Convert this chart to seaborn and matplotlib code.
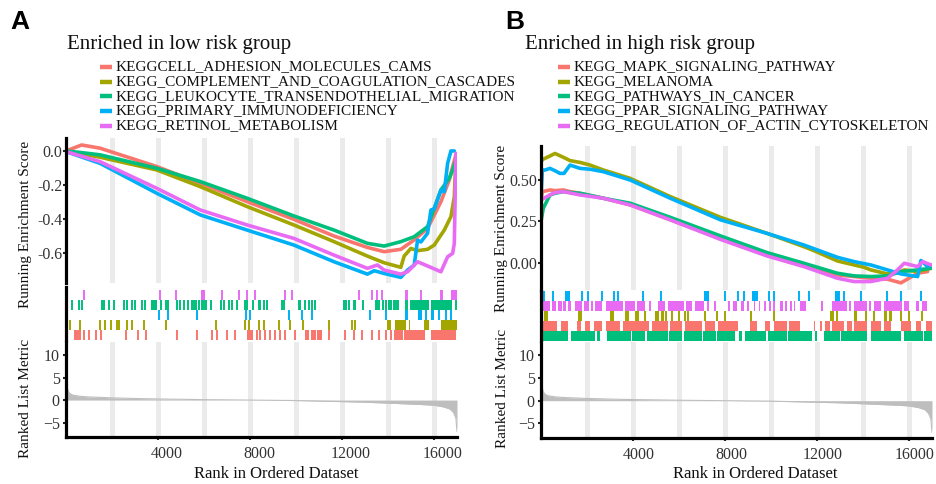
import numpy as np
import pandas as pd
import matplotlib
matplotlib.use("Agg")
import matplotlib.pyplot as plt
import matplotlib.transforms as mtransforms
from matplotlib.lines import Line2D
import seaborn as sns

# ---------------- data ----------------
N_GENES = 17000
PALETTE = ["#F8766D", "#A3A500", "#00BF7D", "#00B0F6", "#E76BF3"]
X_TICKS = [4000, 8000, 12000, 16000]
BANDS = [2000, 4000, 6000, 8000, 10000, 12000, 14000, 16000]

TITLE_A = "Enriched in low risk group"
SETS_A = ["KEGGCELL_ADHESION_MOLECULES_CAMS",
          "KEGG_COMPLEMENT_AND_COAGULATION_CASCADES",
          "KEGG_LEUKOCYTE_TRANSENDOTHELIAL_MIGRATION",
          "KEGG_PRIMARY_IMMUNODEFICIENCY",
          "KEGG_RETINOL_METABOLISM"]
TITLE_B = "Enriched in high risk group"
SETS_B = ["KEGG_MAPK_SIGNALING_PATHWAY",
          "KEGG_MELANOMA",
          "KEGG_PATHWAYS_IN_CANCER",
          "KEGG_PPAR_SIGNALING_PATHWAY",
          "KEGG_REGULATION_OF_ACTIN_CYTOSKELETON"]

# running enrichment score curves, panel A
a_cams_x = [0, 682, 1481, 3951, 5840, 7874, 9908, 11652, 13105, 13832, 14558, 15139, 15720, 16302, 16665, 16810, 16955]
a_cams_y = [0.0, 0.035, 0.016, -0.092, -0.19, -0.298, -0.402, -0.50, -0.567, -0.592, -0.578, -0.523, -0.455, -0.298, -0.17, -0.092, -0.023]
a_comp_x = [0, 1481, 3951, 5840, 7874, 9908, 11652, 13105, 13832, 14558, 14703, 14994, 15285, 15720, 16011, 16447, 16737, 16883, 16955]
a_comp_y = [0.0, -0.037, -0.112, -0.21, -0.327, -0.435, -0.533, -0.618, -0.657, -0.684, -0.618, -0.573, -0.586, -0.578, -0.553, -0.465, -0.386, -0.269, -0.033]
a_leuk_x = [0, 682, 1481, 3951, 5840, 7874, 9908, 11652, 13105, 13832, 14558, 15139, 15720, 16302, 16665, 16810, 16955]
a_leuk_y = [0.0, -0.010, -0.023, -0.102, -0.18, -0.278, -0.382, -0.465, -0.543, -0.559, -0.533, -0.504, -0.445, -0.229, -0.161, -0.112, -0.053]
a_prim_x = [0, 1481, 3951, 5840, 7874, 9908, 11652, 13105, 13400, 13832, 14558, 14849, 15139, 15285, 15430, 15720, 15866, 16011, 16302, 16447, 16592, 16737, 16883]
a_prim_y = [-0.004, -0.073, -0.249, -0.376, -0.465, -0.553, -0.651, -0.724, -0.704, -0.72, -0.743, -0.70, -0.671, -0.524, -0.535, -0.484, -0.347, -0.34, -0.229, -0.24, -0.073, 0.0, 0.0]
a_reti_x = [0, 1481, 3951, 5840, 7874, 9908, 11652, 13105, 13541, 13832, 14558, 14849, 15285, 15720, 16302, 16592, 16810, 16883, 16955]
a_reti_y = [-0.004, -0.063, -0.22, -0.347, -0.435, -0.514, -0.612, -0.69, -0.67, -0.70, -0.724, -0.71, -0.651, -0.676, -0.71, -0.622, -0.602, -0.543, -0.014]

# running enrichment score curves, panel B
b_mapk_x = [0, 60, 391, 609, 972, 1263, 1699, 2716, 3878, 5622, 7802, 9836, 11434, 12887, 13614, 14340, 15067, 15648, 16374, 16810]
b_mapk_y = [0.38, 0.43, 0.44, 0.436, 0.44, 0.43, 0.42, 0.39, 0.35, 0.26, 0.148, 0.048, -0.012, -0.072, -0.082, -0.092, -0.098, -0.12, -0.062, -0.052]
b_mela_x = [0, 72, 391, 609, 972, 1263, 1699, 2135, 2716, 3878, 5622, 7802, 9836, 11434, 11870, 12887, 13614, 14049, 14340, 15067, 15648, 15793, 16374, 16955]
b_mela_y = [0.61, 0.624, 0.645, 0.66, 0.637, 0.617, 0.606, 0.59, 0.56, 0.51, 0.40, 0.275, 0.178, 0.098, 0.074, 0.012, -0.012, -0.026, -0.042, -0.066, -0.052, -0.042, -0.052, -0.032]
b_canc_x = [0, 100, 391, 609, 972, 1263, 1699, 2716, 3878, 5622, 7802, 9836, 11434, 12887, 13614, 14340, 15067, 15648, 16374, 16955]
b_canc_y = [0.25, 0.33, 0.41, 0.42, 0.43, 0.425, 0.42, 0.39, 0.36, 0.275, 0.163, 0.062, -0.002, -0.062, -0.078, -0.082, -0.078, -0.052, -0.042, -0.032]
b_ppar_x = [0, 60, 173, 391, 609, 820, 1000, 1263, 1699, 2135, 2716, 3878, 5622, 7802, 9836, 11434, 12887, 13614, 14340, 15067, 15648, 16374, 16520, 16810, 16955]
b_ppar_y = [0.40, 0.56, 0.56, 0.57, 0.556, 0.54, 0.54, 0.59, 0.57, 0.565, 0.55, 0.50, 0.39, 0.26, 0.178, 0.108, 0.034, 0.008, -0.012, -0.042, -0.066, -0.082, 0.015, -0.022, -0.012]
b_acti_x = [0, 391, 609, 972, 1699, 2716, 3878, 5622, 7802, 9836, 11434, 12887, 13614, 14340, 15067, 15500, 15793, 16374, 16592, 16955]
b_acti_y = [0.38, 0.41, 0.424, 0.43, 0.41, 0.39, 0.35, 0.26, 0.142, 0.042, -0.022, -0.092, -0.112, -0.112, -0.092, -0.042, -0.002, -0.022, 0.008, -0.012]

# hit positions (single ticks) and dense hit blocks (start, end), panel A
a_cams_hits = [378, 450, 523, 596, 770, 989, 1298, 1541, 2587, 3139, 3459, 4839, 5711, 6365, 6583, 7018, 7352, 8326,
               8444, 8662, 8880, 9098, 9315, 9533, 9969, 11422, 12149, 12512, 12875, 13311, 13602, 13892, 14110]
a_cams_blocks = [(7890, 8110), (10400, 10560), (10640, 10860), (10930, 11150), (14250, 14650), (14690, 15600), (15880, 16950)]
a_comp_hits = [189, 625, 1497, 1686, 1976, 2223, 2325, 2659, 2877, 3386, 4330, 6539, 7788, 7963, 8399, 8589, 9243,
               9751, 10303, 11422, 12439, 12585]
a_comp_blocks = [(13960, 14120), (14320, 14780), (14900, 14960), (15560, 15790), (16290, 16980)]
a_leuk_hits = [262, 553, 698, 1570, 1642, 1860, 2107, 2514, 2659, 2877, 2994, 3313, 3429, 4112, 4330, 4446, 4839, 4941,
               5129, 5318, 5493, 5565, 5638, 5783, 5900, 6001, 6103, 6292, 6728, 6873, 7091, 7236, 7454, 7788, 7890,
               8137, 8399, 8444, 8589, 8734, 9388, 9461, 10115, 10187, 10405, 10550, 10696, 10841, 12076, 12178, 12294,
               12512, 12585, 12904, 13457, 13529, 13602, 13776, 13892, 14038, 14110, 14256, 14357, 14444, 14764, 14837,
               14982, 16944]
a_leuk_blocks = [(3677, 3967), (15055, 15781), (15854, 16798)]
a_prim_hits = [4040, 4446, 5711, 7817, 7992, 9679, 10260, 10696, 13239, 13892, 14764, 14837, 15636, 16217, 16508, 16726]
a_prim_blocks = [(15316, 15491), (15854, 15999)]
a_reti_hits = [770, 4083, 4766, 6771, 7527, 7890, 8224, 9533, 9824, 12730, 13311, 13529, 13747, 14764, 14837, 15418,
               16290, 16363]
a_reti_blocks = [(5880, 6060), (16726, 17000)]

# hit positions and dense hit blocks, panel B
b_mapk_hits = []
b_mapk_blocks = [(101, 682), (871, 1162), (1554, 1743), (1918, 2135), (2324, 2644), (2818, 3443), (3545, 4678),
                 (4824, 5521), (5623, 6131), (6247, 7003), (7149, 7584), (7700, 8545), (9098, 9388), (9751, 9940),
                 (10115, 10696), (10768, 11277), (11858, 11931), (12149, 12221), (12367, 12585), (12657, 13166),
                 (13311, 13529), (13602, 14183), (14328, 14764), (14909, 15200), (15636, 16072), (16290, 16508),
                 (16726, 17000)]
b_mela_hits = [4533, 5434, 5696, 6015, 6277, 6393, 7149, 7657, 8020, 10115, 12875, 14110, 14473, 15636, 15999, 16580]
b_mela_blocks = [(145, 319), (1598, 1772), (3007, 3153), (3632, 3807), (4097, 4271), (4969, 5143), (5230, 5332),
                 (9098, 9170), (12585, 12730), (13602, 13747), (14909, 15026), (15127, 15273)]
b_canc_hits = []
b_canc_blocks = [(101, 1191), (1307, 2353), (2426, 2571), (2862, 3900), (3960, 4533), (4605, 5500), (5560, 6131),
                 (6204, 7000), (7060, 7600), (7660, 8456), (8589, 8734), (8880, 9800), (9860, 10700), (10760, 11786),
                 (11931, 12004), (12294, 13000), (13060, 14183), (14328, 15636), (15781, 16600), (16660, 17000)]
b_ppar_hits = [145, 537, 1772, 2063, 2644, 3153, 3342, 4417, 5231, 8021, 8545, 8807, 9388, 9897, 10115, 11204, 11640,
               12947, 13166, 13892, 15055, 15636, 16508]
b_ppar_blocks = [(1046, 1264), (7076, 7294), (9170, 9390), (12802, 12947)]
b_acti_hits = [4751, 7555, 8165, 9751, 9969, 10115]
b_acti_blocks = [(101, 392), (465, 639), (726, 900), (973, 1075), (1191, 1307), (1482, 1772), (1888, 2092),
                 (2179, 2281), (2353, 2644), (2818, 3545), (3632, 4097), (4170, 4533), (5085, 5405), (5521, 6204),
                 (6306, 6567), (6683, 7076), (7221, 7323), (8340, 8516), (8691, 8807), (8952, 9025), (9243, 9315),
                 (9461, 9533), (10405, 10521), (10623, 10696), (10841, 10914), (10986, 11059), (11277, 11538),
                 (12178, 12265), (12657, 13311), (13384, 13457), (13602, 14183), (14256, 14328), (14473, 14764),
                 (14909, 15709), (15781, 15999), (16290, 16435), (16580, 16798)]

# ranked list metric (same ranked gene list in both panels)
metric_rank = [0, 15, 40, 80, 150, 300, 600, 1000, 2000, 3000, 4000, 6000, 8000, 10000, 11650, 12900, 14360, 15500,
               16000, 16400, 16700, 16850, 16950, 17000]
metric_val = [9.0, 6.0, 3.5, 2.2, 1.5, 1.1, 0.85, 0.7, 0.5, 0.35, 0.25, 0.1, 0.0, -0.1, -0.3, -0.45, -0.75, -1.0,
              -1.15, -1.5, -2.0, -2.8, -4.0, -7.0]

# ---------------- styling ----------------
sns.set_theme(style="white")
plt.rcParams["font.family"] = ["Liberation Serif", "DejaVu Serif"]
plt.rcParams["axes.unicode_minus"] = True

W, H = 936, 484
fig = plt.figure(figsize=(W / 100, H / 100), dpi=100)
TXT = "#333333"


def fx(px):
    return px / W


def fy(py):
    return 1 - py / H


def rect(x0, x1, y0, y1):
    return [fx(x0), fy(y1), fx(x1) - fx(x0), (y1 - y0) / H]


def es_frame(xs, ys, names):
    frames = []
    for x, y, n in zip(xs, ys, names):
        frames.append(pd.DataFrame({"rank": x, "es": y, "set": n}))
    return pd.concat(frames, ignore_index=True)


def style_left(ax):
    for s in ["top", "right", "bottom"]:
        ax.spines[s].set_visible(False)
    ax.spines["left"].set_linewidth(2.3)
    ax.spines["left"].set_color("black")


def panel(x0, x1, ys, names, es_x, es_y, es_lim, es_ticks, es_labels, hits, blocks, row_order, row_lim,
          title, letter, letter_x, title_x, handle_x, ylab_x, ylab1_y, ylab2_y, xlab_x, xoff):
    ax_es = fig.add_axes(rect(x0, x1, ys[0], ys[1]))
    ax_tk = fig.add_axes(rect(x0, x1, ys[2], ys[3]))
    ax_mt = fig.add_axes(rect(x0, x1, ys[4], ys[5]))

    # ES curves
    for b in BANDS:
        ax_es.axvline(b, color="#EBEBEB", lw=3.6, zorder=0)
    df = es_frame(es_x, es_y, names)
    sns.lineplot(data=df, x="rank", y="es", hue="set", hue_order=names, palette=PALETTE,
                 estimator=None, sort=False, linewidth=2.6, legend=False, ax=ax_es)
    ax_es.set_xlim(0, N_GENES)
    ax_es.set_ylim(*es_lim)
    ax_es.set_yticks(es_ticks)
    ax_es.set_yticklabels(es_labels)
    ax_es.set_xticks([])
    ax_es.set_xlabel("")
    ax_es.set_ylabel("")
    style_left(ax_es)
    ax_es.tick_params(axis="y", length=2.0, width=1.5, pad=0.5, labelsize=11.5, labelcolor=TXT, left=True)

    # hit ticks
    for i, name in enumerate(names):
        row = row_order[i]
        if hits[i]:
            ax_tk.vlines(hits[i], row, row + 1, color=PALETTE[i], lw=1.4)
        if blocks[i]:
            ax_tk.broken_barh([(s, e - s) for s, e in blocks[i]], (row, 1), facecolor=PALETTE[i],
                              edgecolor="none")
    ax_tk.set_xlim(0, N_GENES)
    ax_tk.set_ylim(*row_lim)
    ax_tk.set_xticks([])
    ax_tk.set_yticks([])
    style_left(ax_tk)

    # ranked list metric
    for b in BANDS:
        ax_mt.axvline(b, color="#EBEBEB", lw=3.6, zorder=0)
    ax_mt.fill_between(metric_rank, 0, metric_val, color="#BEBEBE", lw=0, zorder=1)
    sns.lineplot(x=metric_rank, y=metric_val, color="#BEBEBE", lw=0.8, ax=ax_mt, zorder=2)
    ax_mt.set_xlim(0, N_GENES)
    ax_mt.set_ylim(-8.2, 12.9)
    ax_mt.set_yticks([10, 5, 0, -5])
    ax_mt.set_xticks(X_TICKS)
    ax_mt.set_xticklabels([str(t) for t in X_TICKS])
    for s in ["top", "right"]:
        ax_mt.spines[s].set_visible(False)
    for s in ["left", "bottom"]:
        ax_mt.spines[s].set_linewidth(2.3)
        ax_mt.spines[s].set_color("black")
    ax_mt.tick_params(axis="both", length=2.5, width=1.5, pad=2, labelsize=11.5, labelcolor=TXT,
                      left=True, bottom=True)
    ax_mt.tick_params(axis="x", pad=4)
    off = mtransforms.ScaledTranslation(xoff / 100, 0, fig.dpi_scale_trans)
    for lab in ax_mt.get_xticklabels():
        lab.set_transform(lab.get_transform() + off)
    ax_mt.set_xlabel("")
    ax_mt.set_ylabel("")

    # texts
    fig.text(fx(letter_x), fy(22), letter, family="Liberation Sans", weight="bold", fontsize=19,
             ha="center", va="center", color="black")
    fig.text(fx(title_x), fy(44), title, fontsize=15, ha="left", va="center", color="#111111")
    for i, name in enumerate(names):
        yy = 67 + i * 14.7
        fig.add_artist(Line2D([fx(handle_x), fx(handle_x + 12)], [fy(yy), fy(yy)], color=PALETTE[i],
                              lw=3.2, transform=fig.transFigure, solid_capstyle="butt"))
        fig.text(fx(handle_x + 16), fy(yy), name, fontsize=11, ha="left", va="center", color="#111111")
    fig.text(fx(ylab_x), fy(ylab1_y), "Running Enrichment Score", fontsize=11, rotation=90,
             ha="center", va="center", color="#111111")
    fig.text(fx(ylab_x), fy(ylab2_y), "Ranked List Metric", fontsize=11, rotation=90,
             ha="center", va="center", color="#111111")
    fig.text(fx(xlab_x), fy(474), "Rank in Ordered Dataset", fontsize=12, ha="center", va="center",
             color="#111111")


panel(66, 457, [138, 283, 287, 340, 342, 437], SETS_A,
      [a_cams_x, a_comp_x, a_leuk_x, a_prim_x, a_reti_x],
      [a_cams_y, a_comp_y, a_leuk_y, a_prim_y, a_reti_y],
      (-0.776, 0.076), [0.0, -0.2, -0.4, -0.6], ["0.0", "-0.2", "-0.4", "-0.6"],
      [a_cams_hits, a_comp_hits, a_leuk_hits, a_prim_hits, a_reti_hits],
      [a_cams_blocks, a_comp_blocks, a_leuk_blocks, a_prim_blocks, a_reti_blocks],
      [0, 1, 3, 2, 4], (0, 5.3),
      TITLE_A, "A", 20, 67, 100, 26, 224, 398, 276, 9)

panel(541, 932, [146, 290, 291, 341, 342, 438], SETS_B,
      [b_mapk_x, b_mela_x, b_canc_x, b_ppar_x, b_acti_x],
      [b_mapk_y, b_mela_y, b_canc_y, b_ppar_y, b_acti_y],
      (-0.163, 0.705), [0.0, 0.25, 0.5], ["0.00", "0.25", "0.50"],
      [b_mapk_hits, b_mela_hits, b_canc_hits, b_ppar_hits, b_acti_hits],
      [b_mapk_blocks, b_mela_blocks, b_canc_blocks, b_ppar_blocks, b_acti_blocks],
      [1, 2, 0, 4, 3], (0, 5.05),
      TITLE_B, "B", 515, 525, 558, 502, 228, 388, 755, 6)

fig.savefig("out.png", dpi=100)
